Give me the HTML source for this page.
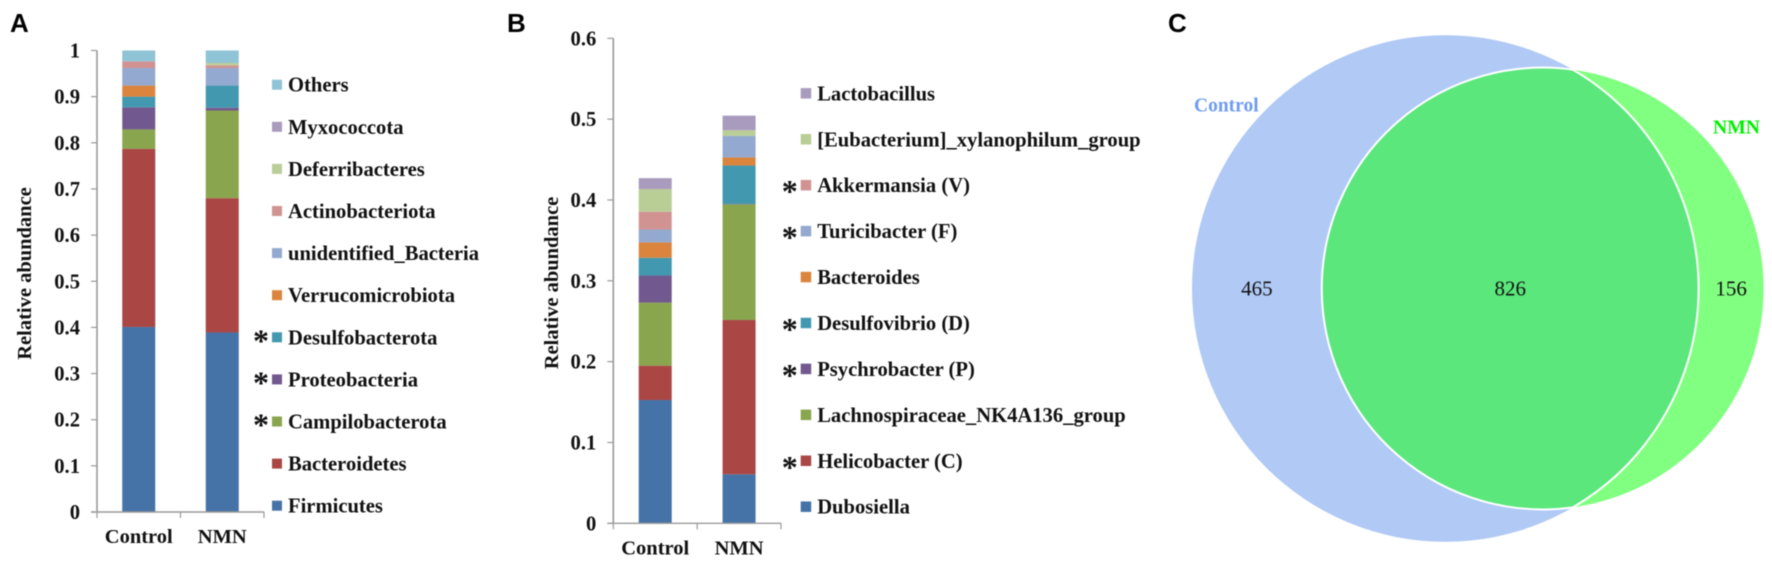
<!DOCTYPE html>
<html lang="en">
<head>
<meta charset="utf-8">
<title>Relative abundance and Venn diagram</title>
<style>
  html, body { margin: 0; padding: 0; background: #fff; width: 1772px; height: 573px; overflow: hidden; }
  svg { display: block; filter: blur(0.45px); }
  text { font-family: "Liberation Serif", serif; font-weight: 700; fill: #111; }
  .panel-letter { font-family: "Liberation Sans", sans-serif; font-size: 26px; fill: #000; }
</style>
</head>
<body>
<svg id="figure" xmlns="http://www.w3.org/2000/svg" width="1772" height="573" viewBox="0 0 1772 573">
  <rect x="0" y="0" width="1772" height="573" fill="#fff"/>
  <text class="panel-letter" x="10" y="32">A</text>
  <text class="panel-letter" x="507" y="32">B</text>
  <text class="panel-letter" x="1168" y="32">C</text>
</svg>
<script>
// ---- Data ----
const categories = ['Control', 'NMN'];

const phylumNames = ['Firmicutes', 'Bacteroidetes', 'Campilobacterota', 'Proteobacteria', 'Desulfobacterota', 'Verrucomicrobiota', 'unidentified_Bacteria', 'Actinobacteriota', 'Deferribacteres', 'Myxococcota', 'Others'];
const phylumControl = [0.401, 0.386, 0.042, 0.048, 0.023, 0.024, 0.038, 0.0145, 0, 0, 0.0235];
const phylumNmn = [0.389, 0.291, 0.190, 0.006, 0.048, 0, 0.038, 0.006, 0.005, 0, 0.027];
const phylumTicks = ['0', '0.1', '0.2', '0.3', '0.4', '0.5', '0.6', '0.7', '0.8', '0.9', '1'];
const phylumStarred = ['Desulfobacterota', 'Proteobacteria', 'Campilobacterota'];

const genusNames = ['Dubosiella', 'Helicobacter (C)', 'Lachnospiraceae_NK4A136_group', 'Psychrobacter (P)', 'Desulfovibrio (D)', 'Bacteroides', 'Turicibacter (F)', 'Akkermansia (V)', '[Eubacterium]_xylanophilum_group', 'Lactobacillus'];
const genusControl = [0.1525, 0.0425, 0.078, 0.0335, 0.022, 0.019, 0.016, 0.022, 0.028, 0.0135];
const genusNmn = [0.0606, 0.191, 0.143, 0.0005, 0.0475, 0.010, 0.0267, 0, 0.007, 0.018];
const genusTicks = ['0', '0.1', '0.2', '0.3', '0.4', '0.5', '0.6'];
const genusStarred = ['Akkermansia (V)', 'Turicibacter (F)', 'Desulfovibrio (D)', 'Psychrobacter (P)', 'Helicobacter (C)'];

const vennGroups = ['Control', 'NMN'];
const vennCounts = [465, 826, 156];

// ---- Style ----
const palette = ['#4573a7', '#aa4644', '#89a54e', '#71588f', '#4298af', '#db843d', '#93a9cf', '#d19392', '#b9cd96', '#a99bbd', '#8fc3d6'];
const axisColor = '#9a9a9a';
const svg = document.getElementById('figure');
const NS = 'http://www.w3.org/2000/svg';

function make(tag, attrs, parent, content) {
  const node = document.createElementNS(NS, tag);
  Object.keys(attrs).forEach(function (k) { node.setAttribute(k, attrs[k]); });
  if (content !== undefined) node.textContent = content;
  parent.appendChild(node);
  return node;
}
function slug(s) {
  return s.toLowerCase().replace(/[^a-z0-9]+/g, '-').replace(/^-|-$/g, '');
}

function drawStacked(cfg) {
  const root = make('g', {}, svg);
  
  

  const maxValue = parseFloat(cfg.ticks[cfg.ticks.length - 1]);
  const yScale = function (v) { return cfg.yBottom - (cfg.yBottom - cfg.yTop) * v / maxValue; };
  const bandWidth = (cfg.xRight - cfg.xLeft) / categories.length;
  const xCenter = function (i) { return cfg.xLeft + bandWidth * (i + 0.5); };

  // stacked bars
  cfg.series.forEach(function (values, c) {
    const barGroup = make('g', {}, root);
    
    
    let running = 0;
    values.forEach(function (v, s) {
      if (v > 0) {
        const top = yScale(running + v);
        const bottom = yScale(running);
        const seg = make('rect', { x: xCenter(c) - 16.5, y: top, width: 33, height: bottom - top, fill: palette[s] }, barGroup);
        
        
      }
      running += v;
    });
  });

  // y axis
  const yAxis = make('line', { x1: cfg.xLeft, x2: cfg.xLeft, y1: cfg.yTop, y2: cfg.yBottom, stroke: axisColor, 'stroke-width': 1.6 }, root);
  
  
  cfg.ticks.forEach(function (label) {
    const y = yScale(parseFloat(label));
    const tick = make('line', { x1: cfg.xLeft - 6, x2: cfg.xLeft, y1: y, y2: y, stroke: axisColor, 'stroke-width': 1.2 }, root);
    
    
    const txt = make('text', { x: cfg.xLeft - 17, y: y + 7, 'text-anchor': 'end', 'font-size': 20.6 }, root, label);
    
    
  });

  // x axis
  const xAxis = make('line', { x1: cfg.xLeft - 6, x2: cfg.xRight, y1: cfg.yBottom, y2: cfg.yBottom, stroke: axisColor, 'stroke-width': 1.4 }, root);
  
  
  for (let i = 0; i <= categories.length; i++) {
    const x = cfg.xLeft + bandWidth * i;
    const xTick = make('line', { x1: x, x2: x, y1: cfg.yBottom, y2: cfg.yBottom + 6, stroke: axisColor, 'stroke-width': 1.2 }, root);
    
    
  }
  categories.forEach(function (name, i) {
    const lbl = make('text', { x: xCenter(i), y: cfg.yBottom + 31, 'text-anchor': 'middle', 'font-size': 20.5 }, root, name);
    
    
  });

  // y axis title
  const title = make('text', { x: 0, y: 0, 'text-anchor': 'middle', 'font-size': 20.5, transform: 'translate(' + cfg.titleX + ',' + cfg.titleY + ') rotate(-90)' }, root, 'Relative abundance');
  
  

  // legend
  const legend = make('g', {}, root);
  
  
  cfg.names.forEach(function (name, s) {
    const y = cfg.legendBottom - s * cfg.legendStep;
    const entry = make('g', {}, legend);
    
    
    const sw = make('rect', { x: cfg.legendX, y: y - cfg.swatch / 2, width: cfg.swatch, height: cfg.swatch, fill: palette[s] }, entry);
    
    
    const t = make('text', { x: cfg.legendX + cfg.swatch + 6, y: y + 7, 'font-size': 20.6 }, entry, name);
    
    
    if (cfg.starred.indexOf(name) >= 0) {
      const star = make('text', { x: cfg.legendX - 11, y: y + cfg.starDrop, 'text-anchor': 'middle', 'font-size': 32 }, entry, '*');
      
      
    }
  });
}

drawStacked({
  id: 'phylum', names: phylumNames, series: [phylumControl, phylumNmn], ticks: phylumTicks, starred: phylumStarred,
  xLeft: 97, xRight: 264, yTop: 50.5, yBottom: 512, titleX: 31, titleY: 273.5,
  legendX: 272, legendBottom: 505.7, legendStep: 42.1, swatch: 10, starDrop: 14
});

drawStacked({
  id: 'genus', names: genusNames, series: [genusControl, genusNmn], ticks: genusTicks, starred: genusStarred,
  xLeft: 613.3, xRight: 781, yTop: 38.3, yBottom: 523.3, titleX: 558, titleY: 283,
  legendX: 800.7, legendBottom: 506.7, legendStep: 45.93, swatch: 10.5, starDrop: 17
});

// ---- Area-proportional Venn diagram ----
function drawVenn() {
  const root = make('g', {}, svg);
  
  

  const unit = 7.05;
  const total1 = vennCounts[0] + vennCounts[1];
  const total2 = vennCounts[1] + vennCounts[2];
  const r1 = unit * Math.sqrt(total1);
  const r2 = unit * Math.sqrt(total2);
  const targetArea = Math.PI * unit * unit * vennCounts[1];

  function lensArea(d) {
    if (d >= r1 + r2) return 0;
    if (d <= Math.abs(r1 - r2)) return Math.PI * Math.min(r1, r2) * Math.min(r1, r2);
    const a = Math.acos((d * d + r1 * r1 - r2 * r2) / (2 * d * r1));
    const b = Math.acos((d * d + r2 * r2 - r1 * r1) / (2 * d * r2));
    return r1 * r1 * (a - Math.sin(a) * Math.cos(a)) + r2 * r2 * (b - Math.sin(b) * Math.cos(b));
  }
  let lo = Math.abs(r1 - r2), hi = r1 + r2;
  for (let i = 0; i < 60; i++) {
    const mid = (lo + hi) / 2;
    if (lensArea(mid) > targetArea) lo = mid; else hi = mid;
  }
  const d = (lo + hi) / 2;

  const cy = 288.5;
  const cx1 = 1192 + r1;
  const cx2 = cx1 + d;
  const ix = cx1 + (d * d + r1 * r1 - r2 * r2) / (2 * d);
  const iy = Math.sqrt(Math.max(0, r1 * r1 - (ix - cx1) * (ix - cx1)));

  const circleA = make('circle', { cx: cx1, cy: cy, r: r1, fill: '#b0c9f5' }, root);
  
  
  const circleB = make('circle', { cx: cx2, cy: cy, r: r2, fill: '#80ff80' }, root);
  
  

  const largeA = (ix - cx1) < 0 ? 1 : 0;
  const largeB = (ix - cx2) > 0 ? 1 : 0;
  const lensPath = 'M' + ix + ' ' + (cy - iy) +
    ' A' + r1 + ' ' + r1 + ' 0 ' + largeA + ' 1 ' + ix + ' ' + (cy + iy) +
    ' A' + r2 + ' ' + r2 + ' 0 ' + largeB + ' 1 ' + ix + ' ' + (cy - iy) + ' Z';
  const lens = make('path', { d: lensPath, fill: '#5be77c', stroke: '#fff', 'stroke-width': 2 }, root);
  
  

  const leftA = cx1 - r1, leftB = cx2 - r2, rightA = cx1 + r1, rightB = cx2 + r2;
  const countX = [(leftA + leftB) / 2, (leftB + rightA) / 2, (rightA + rightB) / 2];
  const countNames = ['venn-count-control-only', 'venn-count-shared', 'venn-count-nmn-only'];
  vennCounts.forEach(function (n, i) {
    const t = make('text', { x: countX[i], y: cy + 7, 'text-anchor': 'middle', 'font-size': 21, style: 'font-weight:400' }, root, String(n));
    
    
  });

  const nameA = make('text', { x: 1194, y: 111.5, 'font-size': 19.5, style: 'fill:#6f9cf0' }, root, vennGroups[0]);
  
  
  const nameB = make('text', { x: 1713, y: 133.5, 'font-size': 19.7, style: 'fill:#00f000' }, root, vennGroups[1]);
  
  
}
drawVenn();
</script>
</body>
</html>
